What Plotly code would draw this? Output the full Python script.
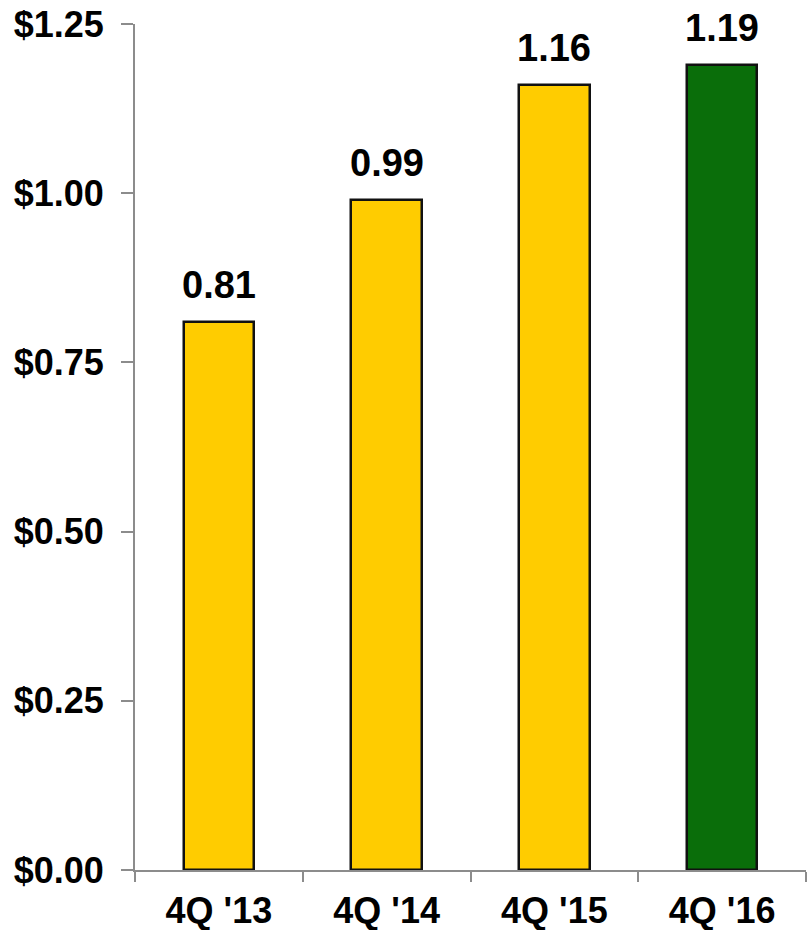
import plotly.graph_objects as go

categories = ["4Q '13", "4Q '14", "4Q '15", "4Q '16"]
values = [0.81, 0.99, 1.16, 1.19]
bar_colors = ["#FFCC00", "#FFCC00", "#FFCC00", "#0A6E0A"]
value_labels = ["0.81", "0.99", "1.16", "1.19"]
y_tickvals = [0, 0.25, 0.5, 0.75, 1.0, 1.25]
y_ticktext = ["$0.00", "$0.25", "$0.50", "$0.75", "$1.00", "$1.25"]

FONT = "Liberation Sans, Arial, sans-serif"

fig = go.Figure()
fig.add_trace(go.Bar(
    x=categories, y=values, width=0.42,
    marker=dict(color=bar_colors, line=dict(color="#111111", width=2.5)),
    hoverinfo="skip",
))

for c, v, t in zip(categories, values, value_labels):
    fig.add_annotation(x=c, y=v, text=t, showarrow=False, yanchor="bottom",
                       yshift=14, font=dict(family=FONT, size=38, color="black", weight="bold"))

fig.update_layout(
    width=807, height=930,
    margin=dict(l=135, r=1, t=24, b=60),
    paper_bgcolor="white", plot_bgcolor="white",
    showlegend=False,
    bargap=0,
)
fig.update_xaxes(
    type="category", range=[-0.5, 3.5], automargin=False,
    showline=True, linecolor="#8C8C8C", linewidth=2,
    ticks="outside", tickson="boundaries", ticklen=10, tickcolor="#8C8C8C", tickwidth=2,
    showgrid=False, zeroline=False, ticklabelstandoff=8,
    tickfont=dict(family=FONT, size=36, color="black", weight="bold"),
)
fig.update_yaxes(
    range=[0, 1.25], tickvals=y_tickvals, ticktext=y_ticktext, automargin=False,
    showline=True, linecolor="#8C8C8C", linewidth=2,
    ticks="outside", ticklen=12, tickcolor="#8C8C8C", tickwidth=2,
    showgrid=False, zeroline=False, ticklabelstandoff=10,
    tickfont=dict(family=FONT, size=36, color="black", weight="bold"),
)

fig.write_html("out.html")
